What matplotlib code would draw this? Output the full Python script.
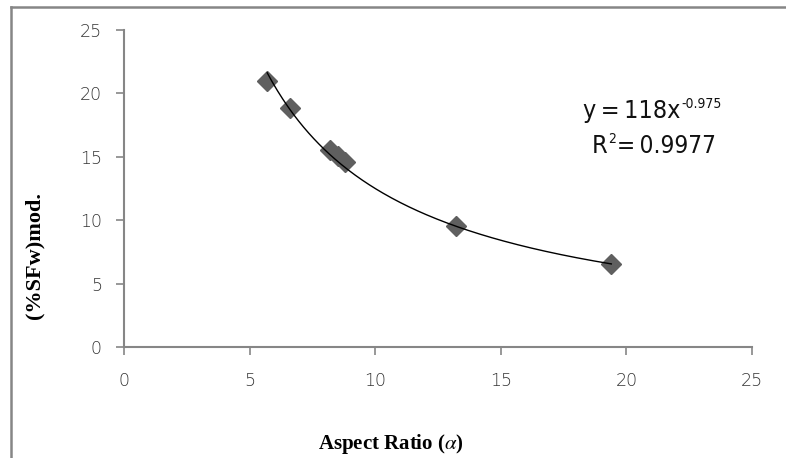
import numpy as np
import matplotlib
matplotlib.use("Agg")
import matplotlib.pyplot as plt
from matplotlib.lines import Line2D

# aspect ratio vs modified shear force share
aspect_ratio = [5.7, 6.6, 8.2, 8.5, 8.8, 13.2, 19.4]
sfw_mod = [21.0, 18.85, 15.5, 15.05, 14.6, 9.55, 6.55]

# power trendline y = a * x^b
coef_a = 118
coef_b = -0.975
r_squared = 0.9977

x_ticks = [0, 5, 10, 15, 20, 25]
y_ticks = [0, 5, 10, 15, 20, 25]

plt.rcParams["mathtext.fontset"] = "stix"
grey = "#868686"
eq_font = dict(family="DejaVu Sans", stretch="condensed", color="#111111")
thin = "\u2009"

fig = plt.figure(figsize=(7.86, 4.58), dpi=100)
ax = fig.add_axes([0.1578, 0.2424, 0.7989, 0.6921])

xs = np.linspace(min(aspect_ratio), max(aspect_ratio), 200)
ax.plot(xs, coef_a * xs ** coef_b, color="black", lw=1.0, zorder=3)
ax.plot(aspect_ratio, sfw_mod, linestyle="none", marker="D", markersize=10,
        color="#5f5f5f", markeredgecolor="#5f5f5f", zorder=2)

ax.set_xlim(0, 25)
ax.set_ylim(0, 25)
ax.set_xticks(x_ticks)
ax.set_yticks(y_ticks)
for sp in ["top", "right"]:
    ax.spines[sp].set_visible(False)
for sp in ["left", "bottom"]:
    ax.spines[sp].set_color(grey)
    ax.spines[sp].set_linewidth(1.5)
ax.tick_params(axis="both", direction="out", length=6, width=1.2, color=grey,
               labelsize=12.5, labelcolor="#333333")
ax.tick_params(axis="x", pad=12)
ax.tick_params(axis="y", pad=10)
for lab in ax.get_xticklabels() + ax.get_yticklabels():
    lab.set_family("DejaVu Sans")
    lab.set_fontweight("light")

ax.set_xlabel(r"Aspect Ratio ($\alpha$)", family="Liberation Serif",
              fontweight="bold", fontsize=15)
ax.xaxis.set_label_coords(0.425, -0.268)
ax.set_ylabel("(%SFw)mod.", family="Liberation Serif", fontweight="bold",
              fontsize=16)
ax.yaxis.set_label_coords(-0.126, 0.29)


def right_of(artist, gap=0.0):
    fig.canvas.draw()
    bb = artist.get_window_extent()
    return ax.transData.inverted().transform((bb.x1, bb.y0))[0] + gap


# trendline equation, exponents raised as separate smaller texts
eq = ax.text(18.27, 18.06, "y" + thin + "=" + thin + "%dx" % coef_a,
             fontsize=18, ha="left", va="baseline", **eq_font)
ax.text(right_of(eq, 0.03), 18.85, "%.3f" % coef_b, fontsize=10,
        ha="left", va="baseline", **eq_font)
r = ax.text(18.63, 15.3, "R", fontsize=18, ha="left", va="baseline", **eq_font)
sq = ax.text(right_of(r, 0.02), 16.1, "2", fontsize=10, ha="left",
             va="baseline", **eq_font)
ax.text(right_of(sq, 0.05), 15.3, "=" + thin + "%.4f" % r_squared,
        fontsize=17.5, ha="left", va="baseline", **eq_font)

# outer chart frame (left and top edges)
fig.add_artist(Line2D([10.5 / 786, 10.5 / 786], [0, 1 - 6.5 / 458],
                      color=grey, lw=1.8, transform=fig.transFigure))
fig.add_artist(Line2D([10.5 / 786, 1], [1 - 6.5 / 458, 1 - 6.5 / 458],
                      color=grey, lw=1.8, transform=fig.transFigure))

fig.savefig("out.png", dpi=100)
